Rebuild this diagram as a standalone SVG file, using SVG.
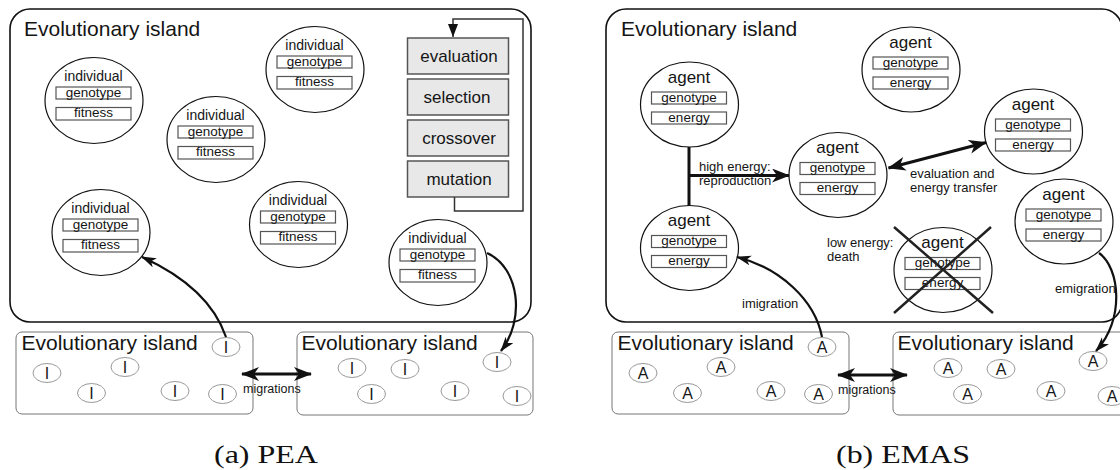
<svg xmlns="http://www.w3.org/2000/svg" width="1120" height="470" viewBox="0 0 1120 470">
<style>
.t{font-family:"Liberation Sans",Arial,sans-serif;fill:#151515}
.title{font-size:21px}
.ind{font-size:14px;text-anchor:middle}
.agent{font-size:17px;text-anchor:middle}
.fld{font-size:13.5px;text-anchor:middle}
.lbl{font-size:13px}
.mig{font-size:12.5px}
.sl{font-size:16px;text-anchor:middle;opacity:0.99}
.cap{font-family:"Liberation Serif","Times New Roman",serif;font-size:26px;fill:#111;text-anchor:middle}
.box{fill:#fff;stroke:#555;stroke-width:1.2}
.cell{fill:#fff;stroke:#111;stroke-width:1.2}
.big{fill:#fff;stroke:#111;stroke-width:1.6}
.isl{fill:#fff;stroke:#777;stroke-width:1}
.sm{fill:#fff;stroke:#999;stroke-width:1}
.proc{fill:#e8e8e8;stroke:#555;stroke-width:1.5}
.ptxt{font-size:17px;text-anchor:middle}
.con{fill:none;stroke:#111;stroke-width:2.2}
.thick{fill:none;stroke:#111;stroke-width:3}
</style>
<defs>
<marker id="ah" markerUnits="userSpaceOnUse" markerWidth="16" markerHeight="12" refX="14" refY="5" orient="auto"><path d="M0,0 L15,5 L0,10 L4,5 z" fill="#111"/></marker>
<marker id="ahB" markerUnits="userSpaceOnUse" markerWidth="20" markerHeight="15" refX="17" refY="7" orient="auto-start-reverse"><path d="M0,0 L18,7 L0,14 L5,7 z" fill="#111"/></marker>
<marker id="tri" markerUnits="userSpaceOnUse" markerWidth="12" markerHeight="14" refX="5" refY="13" orient="0"><path d="M0,0 L10,0 L5,13 z" fill="#111"/></marker>
<g id="indiv">
<ellipse rx="49" ry="43" class="cell"/>
<text x="-0.5" y="-19.5" class="t ind">individual</text>
<rect x="-38" y="-13.5" width="75" height="12" class="box"/>
<text x="-0.5" y="-4" class="t fld">genotype</text>
<rect x="-38" y="7" width="75" height="12.5" class="box"/>
<text x="-0.5" y="16.5" class="t fld">fitness</text>
</g>
<g id="agentT">
<ellipse rx="49" ry="42.5" class="cell"/>
<text x="-0.5" y="-22" class="t agent">agent</text>
<rect x="-38" y="-12.5" width="75" height="12" class="box"/>
<text x="-0.5" y="-3" class="t fld">genotype</text>
<rect x="-38" y="7.5" width="75" height="12" class="box"/>
<text x="-0.5" y="17" class="t fld">energy</text>
</g>
</defs>

<!-- Panel (a) -->
<g id="a-island">
<rect x="10" y="9" width="521" height="313" rx="20" class="big"/>
<text x="24" y="36" class="t title">Evolutionary island</text>
</g>
<g id="a-ops">
<rect x="407.5" y="38" width="101" height="36" class="proc"/>
<text x="459" y="62" class="t ptxt">evaluation</text>
<rect x="407.5" y="79" width="101" height="36" class="proc"/>
<text x="457" y="103" class="t ptxt">selection</text>
<rect x="407.5" y="120" width="101" height="36" class="proc"/>
<text x="459" y="144" class="t ptxt">crossover</text>
<rect x="407.5" y="161" width="101" height="36" class="proc"/>
<text x="459" y="185" class="t ptxt">mutation</text>
</g>
<g id="a-i1"><use href="#indiv" x="94" y="100.5"/></g>
<g id="a-i2"><use href="#indiv" x="216" y="139.5"/></g>
<g id="a-i3"><use href="#indiv" x="315" y="69.5"/></g>
<g id="a-i4"><use href="#indiv" x="101" y="232.5"/></g>
<g id="a-i5"><use href="#indiv" x="298.5" y="224.5"/></g>
<g id="a-i6"><use href="#indiv" x="438" y="262.5"/></g>

<g id="a-isl-left">
<rect x="16" y="332" width="237" height="82" rx="6" class="isl"/>
<text x="21.5" y="350" class="t title">Evolutionary island</text>
<ellipse cx="226" cy="347" rx="14" ry="9.5" class="sm"/><text x="226" y="353" class="t sl">I</text>
<ellipse cx="47" cy="373" rx="14" ry="9.5" class="sm"/><text x="47" y="379" class="t sl">I</text>
<ellipse cx="125" cy="367" rx="14" ry="9.5" class="sm"/><text x="125" y="373" class="t sl">I</text>
<ellipse cx="91.5" cy="393" rx="14" ry="9.5" class="sm"/><text x="91.5" y="399" class="t sl">I</text>
<ellipse cx="175" cy="391" rx="14" ry="9.5" class="sm"/><text x="175" y="397" class="t sl">I</text>
<ellipse cx="222.5" cy="394" rx="14" ry="9.5" class="sm"/><text x="222.5" y="400" class="t sl">I</text>
</g>
<g id="a-isl-right">
<rect x="297" y="332" width="236" height="83" rx="6" class="isl"/>
<text x="301.5" y="350" class="t title">Evolutionary island</text>
<ellipse cx="352" cy="368" rx="14" ry="9.5" class="sm"/><text x="352" y="374" class="t sl">I</text>
<ellipse cx="405" cy="369" rx="14" ry="9.5" class="sm"/><text x="405" y="375" class="t sl">I</text>
<ellipse cx="497" cy="362" rx="14" ry="9.5" class="sm"/><text x="497" y="368" class="t sl">I</text>
<ellipse cx="371.5" cy="394" rx="14" ry="9.5" class="sm"/><text x="371.5" y="400" class="t sl">I</text>
<ellipse cx="455" cy="391" rx="14" ry="9.5" class="sm"/><text x="455" y="397" class="t sl">I</text>
<ellipse cx="517" cy="396" rx="14" ry="9.5" class="sm"/><text x="517" y="402" class="t sl">I</text>
</g>

<!-- Panel (b) -->
<g id="b-island">
<rect x="606" y="9" width="516" height="313" rx="20" class="big"/>
<text x="621" y="36" class="t title">Evolutionary island</text>
</g>
<g id="b-a1"><use href="#agentT" x="689.5" y="104.5"/></g>
<g id="b-a2"><use href="#agentT" x="911" y="69.5"/></g>
<g id="b-a3"><use href="#agentT" x="838" y="175"/></g>
<g id="b-a4"><use href="#agentT" x="1033.5" y="131.5"/></g>
<g id="b-a5"><use href="#agentT" x="689.5" y="248"/></g>
<g id="b-a6"><use href="#agentT" x="1064" y="221.5"/></g>
<g id="b-a7">
<use href="#agentT" x="943" y="270"/>
<path d="M894,227 L993,313 M991,227 L894,313" fill="none" stroke="#222" stroke-width="2.5"/>
</g>

<g id="b-isl-left">
<rect x="612" y="332" width="237" height="82" rx="6" class="isl"/>
<text x="617.5" y="350" class="t title">Evolutionary island</text>
<ellipse cx="822" cy="347" rx="14" ry="9.5" class="sm"/><text x="822" y="353" class="t sl">A</text>
<ellipse cx="643" cy="373" rx="14" ry="9.5" class="sm"/><text x="643" y="379" class="t sl">A</text>
<ellipse cx="721" cy="367" rx="14" ry="9.5" class="sm"/><text x="721" y="373" class="t sl">A</text>
<ellipse cx="687.5" cy="393" rx="14" ry="9.5" class="sm"/><text x="687.5" y="399" class="t sl">A</text>
<ellipse cx="771" cy="391" rx="14" ry="9.5" class="sm"/><text x="771" y="397" class="t sl">A</text>
<ellipse cx="818.5" cy="394" rx="14" ry="9.5" class="sm"/><text x="818.5" y="400" class="t sl">A</text>
</g>
<g id="b-isl-right">
<rect x="893" y="332" width="236" height="83" rx="6" class="isl"/>
<text x="897.5" y="350" class="t title">Evolutionary island</text>
<ellipse cx="948" cy="368" rx="14" ry="9.5" class="sm"/><text x="948" y="374" class="t sl">A</text>
<ellipse cx="1001" cy="369" rx="14" ry="9.5" class="sm"/><text x="1001" y="375" class="t sl">A</text>
<ellipse cx="1093" cy="361" rx="14" ry="9.5" class="sm"/><text x="1093" y="367" class="t sl">A</text>
<ellipse cx="967.5" cy="394" rx="14" ry="9.5" class="sm"/><text x="967.5" y="400" class="t sl">A</text>
<ellipse cx="1051" cy="391" rx="14" ry="9.5" class="sm"/><text x="1051" y="397" class="t sl">A</text>
<ellipse cx="1112" cy="396" rx="14" ry="9.5" class="sm"/><text x="1112" y="402" class="t sl">A</text>
</g>

<g id="connectors">
<path d="M454.5,197 V211 H523 V19 H453 V37" fill="none" stroke="#333" stroke-width="1.5" marker-end="url(#tri)"/>
<path d="M226,337 C212,296 175,272 142,257" class="con" marker-end="url(#ah)"/>
<path d="M487,253 C520,268 525,320 501,351" class="con" marker-end="url(#ah)"/>
<path d="M242,374 H311" class="thick" marker-start="url(#ahB)" marker-end="url(#ahB)"/>
<path d="M689,147 V206" class="thick"/>
<path d="M689,175.5 H789" class="thick" marker-end="url(#ahB)"/>
<path d="M888.5,168 L986,142.5" class="thick" marker-start="url(#ahB)" marker-end="url(#ahB)"/>
<path d="M822,337 C815,300 780,268 737,257" class="con" marker-end="url(#ah)"/>
<path d="M1099,253 C1120,268 1125,320 1096,351" class="con" marker-end="url(#ah)"/>
<path d="M838,375 H907" class="thick" marker-start="url(#ahB)" marker-end="url(#ahB)"/>
</g>

<g id="labels">
<text x="243" y="393" class="t mig">migrations</text>
<text x="838" y="394" class="t mig">migrations</text>
<text x="699" y="170.5" class="t lbl">high energy:</text>
<text x="699" y="185" class="t lbl">reproduction</text>
<text x="910" y="177.5" class="t lbl">evaluation and</text>
<text x="910" y="192" class="t lbl">energy transfer</text>
<text x="827" y="246.5" class="t lbl">low energy:</text>
<text x="827" y="261" class="t lbl">death</text>
<text x="742" y="307.5" class="t lbl">imigration</text>
<text x="1055" y="293" class="t lbl">emigration</text>
</g>

<g id="captions">
<text x="266" y="463" class="cap" textLength="104" lengthAdjust="spacingAndGlyphs">(a) PEA</text>
<text x="903" y="463" class="cap" textLength="134" lengthAdjust="spacingAndGlyphs">(b) EMAS</text>
</g>
</svg>
